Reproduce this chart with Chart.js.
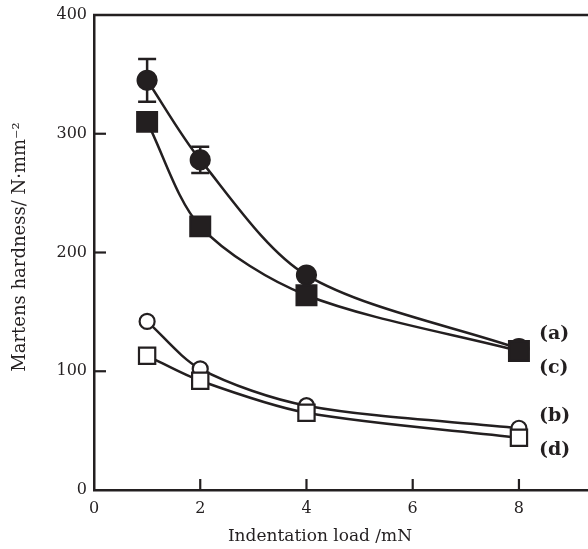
<!DOCTYPE html>
<html>
<head>
<meta charset="utf-8">
<script src="https://cdn.jsdelivr.net/npm/chart.js@4"></script>
<style>
  html, body { margin: 0; padding: 0; background: #fff; overflow: hidden; }
</style>
</head>
<body>
<canvas id="hardnessChart" width="588" height="549"></canvas>
<script>
const loads = [1, 2, 4, 8];
const hardnessA = [345, 278, 181, 119];
const hardnessC = [310, 222, 164, 117];
const hardnessB = [142, 102, 71, 52];
const hardnessD = [113, 92, 65, 44];
const errLoads = [1, 2];
const errLowA = [327, 267];
const errHighA = [363, 289];
const xTicks = [0, 2, 4, 6, 8];
const yTicks = [0, 100, 200, 300, 400];
const seriesLabels = ['(a)', '(c)', '(b)', '(d)'];

const ink = '#231f20';
const serif = "'DejaVu Serif', serif";

function toPoints(values) {
  return loads.map((x, i) => ({ x: x, y: values[i] }));
}

function series(label, values, style, filled, radius, order) {
  return {
    label: label,
    data: toPoints(values),
    showLine: true,
    tension: 0.3,
    borderColor: ink,
    borderWidth: 2.5,
    pointStyle: style,
    pointRadius: radius,
    pointBorderWidth: 2.2,
    pointBorderColor: ink,
    pointBackgroundColor: filled ? ink : '#fff',
    order: order
  };
}

// inward tick marks, top border, error bars, curve labels, axis titles
const decorations = {
  id: 'decorations',
  beforeDatasetsDraw(chart) {
    const ctx = chart.ctx;
    const xs = chart.scales.x, ys = chart.scales.y;
    ctx.save();
    ctx.strokeStyle = ink;
    ctx.lineWidth = 2.5;
    errLoads.forEach((x, i) => {
      const px = xs.getPixelForValue(x);
      const top = ys.getPixelForValue(errHighA[i]);
      const bot = ys.getPixelForValue(errLowA[i]);
      ctx.beginPath();
      ctx.moveTo(px, top); ctx.lineTo(px, bot);
      ctx.moveTo(px - 9, top); ctx.lineTo(px + 9, top);
      ctx.moveTo(px - 9, bot); ctx.lineTo(px + 9, bot);
      ctx.stroke();
    });
    ctx.restore();
  },
  afterDraw(chart) {
    const ctx = chart.ctx;
    const area = chart.chartArea;
    const xs = chart.scales.x, ys = chart.scales.y;
    ctx.save();
    ctx.strokeStyle = ink;
    ctx.lineWidth = 2.5;
    ctx.beginPath();
    ctx.moveTo(area.left - 1, area.top);
    ctx.lineTo(area.right, area.top);
    ctx.stroke();
    ctx.lineWidth = 2.2;
    yTicks.slice(1, -1).forEach(v => {
      const py = ys.getPixelForValue(v);
      ctx.beginPath();
      ctx.moveTo(area.left, py); ctx.lineTo(area.left + 12, py);
      ctx.stroke();
    });
    xTicks.slice(1).forEach(v => {
      const px = xs.getPixelForValue(v);
      ctx.beginPath();
      ctx.moveTo(px, area.bottom); ctx.lineTo(px, area.bottom - 11);
      ctx.stroke();
    });

    ctx.fillStyle = ink;
    ctx.font = 'bold 19px ' + serif;
    ctx.textAlign = 'left';
    ctx.textBaseline = 'middle';
    const labelY = [334, 368, 416, 450];
    seriesLabels.forEach((t, i) => ctx.fillText(t, 539, labelY[i]));

    ctx.font = '17px ' + serif;
    ctx.textAlign = 'center';
    ctx.fillText('Indentation load /mN', 320, 537);
    ctx.font = '18px ' + serif;
    ctx.translate(20, 247);
    ctx.rotate(-Math.PI / 2);
    ctx.fillText('Martens hardness/ N\u00B7mm\u207B\u00B2', 0, 0);
    ctx.restore();
  }
};

new Chart(document.getElementById('hardnessChart'), {
  type: 'scatter',
  data: {
    datasets: [
      series('(c)', hardnessC, 'rect', true, 14, 0),
      series('(a)', hardnessA, 'circle', true, 9.5, 1),
      series('(d)', hardnessD, 'rect', false, 11.5, 2),
      series('(b)', hardnessB, 'circle', false, 7.5, 3)
    ]
  },
  options: {
    responsive: false,
    animation: false,
    devicePixelRatio: 1,
    layout: { autoPadding: false, padding: { top: 15, left: 0, right: 0, bottom: 0 } },
    plugins: { legend: { display: false }, tooltip: { enabled: false } },
    scales: {
      x: {
        type: 'linear',
        min: 0,
        max: 9.3,
        afterBuildTicks: s => { s.ticks = xTicks.map(v => ({ value: v })); },
        afterFit: s => { s.height = 59; s.paddingLeft = 0; s.paddingRight = 0; },
        grid: { display: false, drawTicks: false },
        border: { display: true, color: ink, width: 2.5 },
        ticks: { color: ink, padding: 9, font: { family: serif, size: 16 } }
      },
      y: {
        type: 'linear',
        min: 0,
        max: 400,
        afterBuildTicks: s => { s.ticks = yTicks.map(v => ({ value: v })); },
        afterFit: s => { s.width = 94; s.paddingTop = 0; s.paddingBottom = 0; },
        grid: { display: false, drawTicks: false },
        border: { display: true, color: ink, width: 2.5 },
        ticks: { color: ink, padding: 7, font: { family: serif, size: 16 } }
      }
    }
  },
  plugins: [decorations]
});
</script>
</body>
</html>
